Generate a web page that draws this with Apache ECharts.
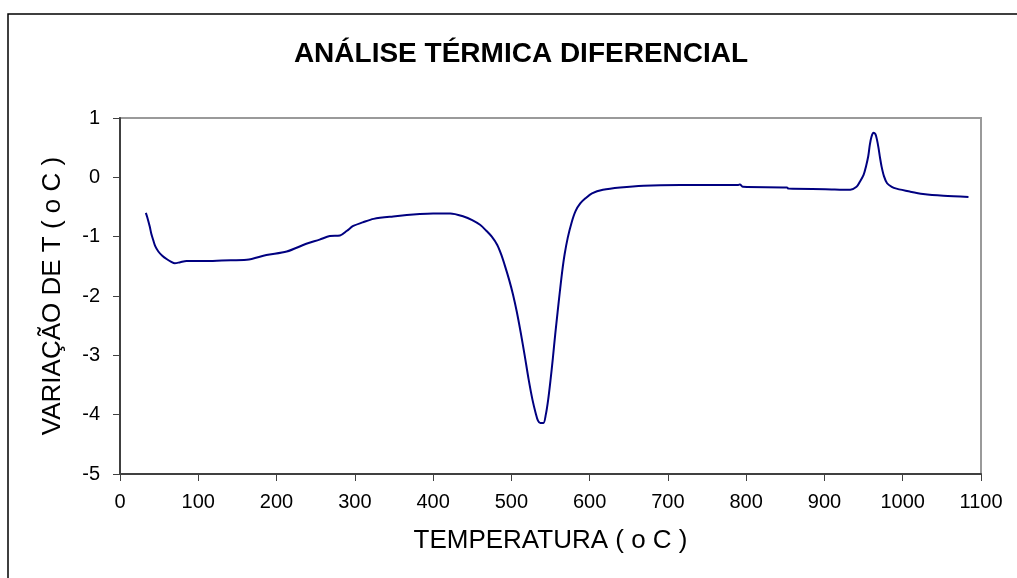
<!DOCTYPE html>
<html>
<head>
<meta charset="utf-8">
<script src="https://cdn.jsdelivr.net/npm/echarts@6/dist/echarts.min.js"></script>
<style>
  html, body { margin: 0; padding: 0; background: #fff; }
  #grafico { width: 1017px; height: 578px; }
</style>
</head>
<body>
<div id="grafico"></div>
<script>
// leitura do gráfico ATD (temperatura em oC, variação de T em oC)
var temperatura = [33, 35, 38, 40, 42.5, 45, 49, 54, 60, 65, 70, 77, 85, 100, 115, 130, 162, 187, 213, 238,
  255, 268, 281, 290, 298, 310, 324, 349, 383, 400, 422, 439, 450, 460, 468, 475, 482, 487,
  492, 497, 502, 507, 512, 517, 522, 527, 531, 534, 537, 541, 544, 547, 550, 553, 556, 559, 562, 565,
  568, 572, 577, 582, 588, 595, 603, 617, 639, 669, 716, 790, 792, 796, 852, 854, 901, 933,
  941, 945, 950, 953, 956, 958, 960, 962.5, 965, 967, 969, 971, 973, 976, 980, 986, 992,
  1009, 1026, 1052, 1084];
var variacao = [-0.60, -0.68, -0.83, -0.95, -1.06, -1.16, -1.25, -1.32, -1.38, -1.42, -1.45, -1.43, -1.41, -1.41, -1.41, -1.40, -1.39, -1.31, -1.25, -1.12,
  -1.05, -0.99, -0.98, -0.90, -0.82, -0.76, -0.70, -0.66, -0.62, -0.61, -0.61, -0.66, -0.72, -0.80, -0.90, -1.00, -1.14, -1.30,
  -1.50, -1.72, -1.97, -2.27, -2.62, -3.00, -3.40, -3.75, -3.97, -4.10, -4.14, -4.14, -4.00, -3.75, -3.42, -3.05, -2.65, -2.28, -1.92, -1.58,
  -1.30, -1.02, -0.76, -0.57, -0.44, -0.35, -0.27, -0.21, -0.17, -0.14, -0.13, -0.13, -0.12, -0.16, -0.17, -0.19, -0.20, -0.21,
  -0.16, -0.08, 0.04, 0.18, 0.36, 0.55, 0.68, 0.75, 0.73, 0.64, 0.50, 0.33, 0.18, 0.02, -0.10, -0.16, -0.19,
  -0.24, -0.28, -0.31, -0.33];

var pontos = [];
for (var i = 0; i < temperatura.length; i++) {
  pontos.push([temperatura[i], variacao[i]]);
}

var chartDom = document.getElementById('grafico');
var myChart = echarts.init(chartDom);
var fonte = '"Liberation Sans", Arial, sans-serif';
var option;

option = {
  backgroundColor: '#fff',
  animation: false,
  title: {
    text: 'ANÁLISE TÉRMICA DIFERENCIAL',
    left: 516,
    top: 35,
    textAlign: 'center',
    textStyle: { fontFamily: fonte, fontSize: 28, fontWeight: 'bold', color: '#000' }
  },
  graphic: [{
    type: 'rect',
    shape: { x: 8, y: 14, width: 1100, height: 700 },
    style: { fill: 'none', stroke: '#000', lineWidth: 1.5 },
    silent: true
  }],
  grid: {
    left: 120,
    top: 118,
    right: 36,
    bottom: 104,
    show: true,
    borderColor: '#9a9a9a',
    borderWidth: 2
  },
  xAxis: {
    type: 'value',
    min: 0,
    max: 1100,
    interval: 100,
    name: 'TEMPERATURA ( o C )',
    nameLocation: 'middle',
    nameGap: 54,
    nameTextStyle: { fontFamily: fonte, fontSize: 26, color: '#000' },
    axisLine: { onZero: false, lineStyle: { color: '#404040', width: 2 } },
    axisTick: { show: true, length: 7, lineStyle: { color: '#404040', width: 1 } },
    axisLabel: {
      fontFamily: fonte, fontSize: 20, color: '#000', margin: 18,
      formatter: function (v) { return String(v); }
    },
    splitLine: { show: false }
  },
  yAxis: {
    type: 'value',
    min: -5,
    max: 1,
    interval: 1,
    name: 'VARIAÇÃO DE T ( o C )',
    nameLocation: 'middle',
    nameGap: 54,
    nameTextStyle: { fontFamily: fonte, fontSize: 26, color: '#000' },
    axisLine: { show: true, lineStyle: { color: '#404040', width: 2 } },
    axisTick: { show: true, length: 7, lineStyle: { color: '#404040', width: 1 } },
    axisLabel: { fontFamily: fonte, fontSize: 20, color: '#000', margin: 20 },
    splitLine: { show: false }
  },
  series: [{
    type: 'line',
    data: pontos,
    showSymbol: false,
    smooth: 0.3,
    lineStyle: { color: '#000080', width: 2 }
  }]
};

option && myChart.setOption(option);
</script>
</body>
</html>
